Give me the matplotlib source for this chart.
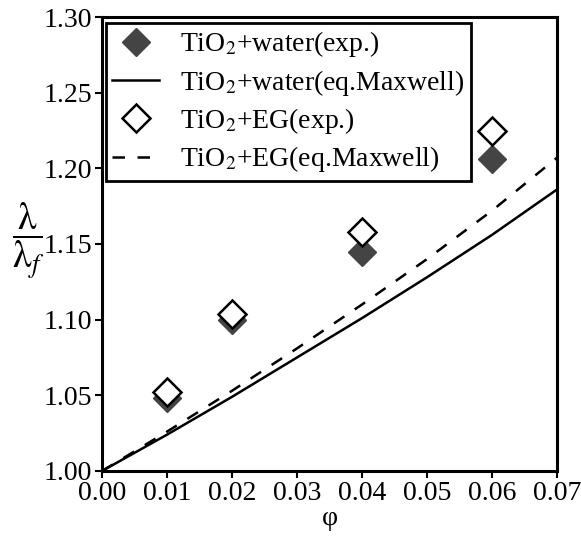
import numpy as np
import matplotlib
matplotlib.use("Agg")
import matplotlib.pyplot as plt

plt.rcParams['font.family'] = ['Liberation Serif', 'DejaVu Serif']
plt.rcParams['mathtext.fontset'] = 'stix'

# экспериментальные точки
phi_exp = [0.01, 0.02, 0.04, 0.06]
water_exp = [1.048, 1.100, 1.145, 1.206]
eg_exp = [1.052, 1.104, 1.158, 1.225]

# кривые по уравнению Максвелла
phi_line = [0.0, 0.01, 0.02, 0.03, 0.04, 0.05, 0.06, 0.07]
water_line = [1.0, 1.024, 1.049, 1.075, 1.101, 1.128, 1.156, 1.186]
eg_line = [1.0, 1.026, 1.053, 1.081, 1.110, 1.140, 1.172, 1.207]

xticks = [0.00, 0.01, 0.02, 0.03, 0.04, 0.05, 0.06, 0.07]
yticks = [1.00, 1.05, 1.10, 1.15, 1.20, 1.25, 1.30]

fig = plt.figure(figsize=(5.81, 5.40), dpi=100)
ax = fig.add_axes([0.1756, 0.1278, 0.783, 0.8407])

ax.plot(phi_exp, water_exp, linestyle='none', marker='D', ms=14.5,
        color='#444444', mec='#444444', label='TiO$_2$+water(exp.)')
ax.plot(phi_line, water_line, color='black', lw=1.8,
        label='TiO$_2$+water(eq.Maxwell)')
ax.plot(phi_exp, eg_exp, linestyle='none', marker='D', ms=14.5,
        mfc='white', mec='black', mew=1.8, label='TiO$_2$+EG(exp.)')
ax.plot(phi_line, eg_line, color='black', lw=1.8, dashes=(5, 5),
        label='TiO$_2$+EG(eq.Maxwell)')

ax.set_xlim(0, 0.07)
ax.set_ylim(1.0, 1.3)
ax.set_xticks(xticks)
ax.set_yticks(yticks)
ax.set_xticklabels([f"{v:.2f}" for v in xticks])
ax.set_yticklabels([f"{v:.2f}" for v in yticks])
ax.tick_params(direction='out', length=5, width=1.5, labelsize=20, pad=2)
for s in ax.spines.values():
    s.set_linewidth(2.2)

ax.set_xlabel('φ', fontsize=20, labelpad=0)
ax.set_ylabel(r'$\dfrac{\mathrm{\lambda}}{\mathrm{\lambda}_{f}}$', fontsize=27,
              rotation=0, va='center', ha='center')
ax.yaxis.set_label_coords(-0.163, 0.505)

leg = ax.legend(loc='upper left', bbox_to_anchor=(0.009, 0.986), fontsize=20,
                frameon=True, fancybox=False, edgecolor='black', framealpha=1,
                borderpad=0.22, labelspacing=0.3, handlelength=1.7,
                handletextpad=0.75, borderaxespad=0)
leg.get_frame().set_linewidth(2.0)

fig.savefig('out.png', dpi=100)
